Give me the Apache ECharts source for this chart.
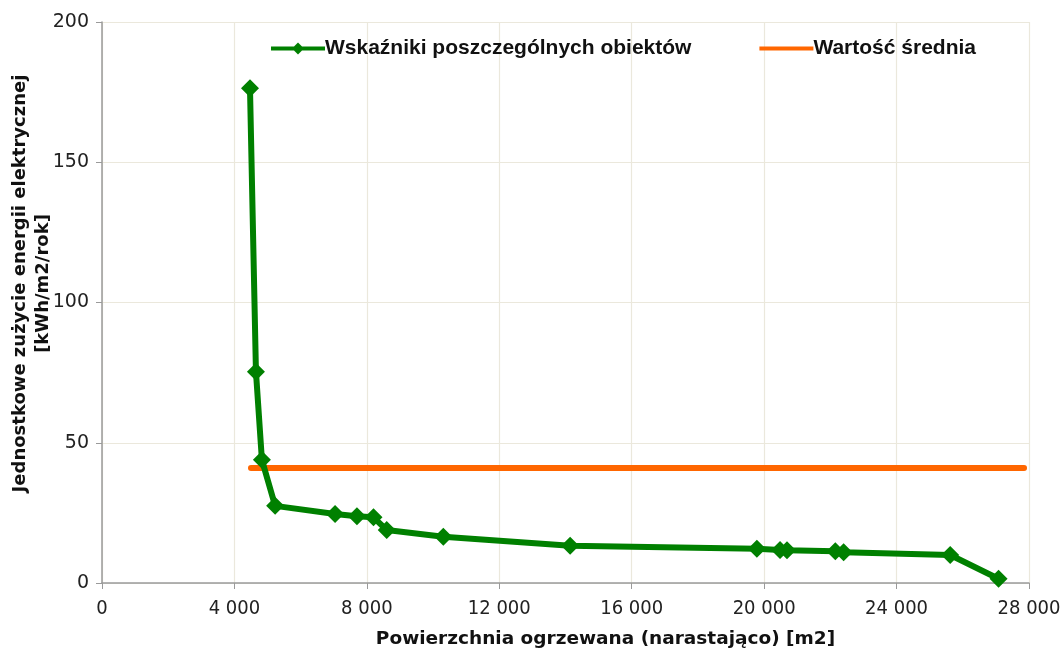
<!DOCTYPE html>
<html>
<head>
<meta charset="utf-8">
<script src="https://cdn.jsdelivr.net/npm/echarts@6/dist/echarts.min.js"></script>
<style>html,body{margin:0;padding:0;background:#fff}#c{width:1061px;height:650px}</style>
</head>
<body>
<div id="c"></div>
<script>
var areaCum = [4470, 4650, 4830, 5230, 7040, 7700, 8200, 8600, 10310, 14140, 19780, 20480, 20690, 22150, 22400, 25620, 27080];
var indicator = [176.4, 75.3, 43.9, 27.5, 24.6, 23.8, 23.4, 18.9, 16.5, 13.3, 12.2, 11.8, 11.7, 11.3, 11.0, 10.0, 1.5];
var avgX = [4500, 27850];
var avgValue = 41.0;
var seriesNames = ['Wskaźniki poszczególnych obiektów', 'Wartość średnia'];
var xAxisTitle = 'Powierzchnia ogrzewana (narastająco) [m2]';
var yAxisTitle = 'Jednostkowe zużycie energii elektrycznej\n[kWh/m2/rok]';

var chart = echarts.init(document.getElementById('c'));
chart.setOption({
  animation: false,
  backgroundColor: '#ffffff',
  legend: {
    top: 33,
    left: 266,
    itemGap: 68,
    itemWidth: 54,
    itemHeight: 14,
    textStyle: {fontFamily: 'Liberation Sans, Arial', fontWeight: 'bold', fontSize: 21, color: '#111', padding: [0, 0, 0, -5]},
    data: [
      {name: seriesNames[0], icon: 'path://M0,5 L23,5 L27,1 L31,5 L54,5 L54,9 L31,9 L27,13 L23,9 L0,9 Z'},
      {name: seriesNames[1], icon: 'path://M0,5 L54,5 L54,9 L0,9 Z'}
    ]
  },
  grid: {left: 102, right: 32, top: 22, bottom: 67, outerBoundsMode: 'none', containLabel: false},
  xAxis: {
    type: 'value', min: 0, max: 28000, interval: 4000,
    name: xAxisTitle, nameLocation: 'middle', nameGap: 47, nameMoveOverlap: false,
    nameTextStyle: {fontFamily: 'DejaVu Sans', fontWeight: 'bold', fontSize: 18.5, color: '#111', padding: [0, 0, 0, 80]},
    axisLine: {show: true, lineStyle: {color: '#9a9a9a', width: 1.5}},
    axisTick: {show: true, length: 6, lineStyle: {color: '#9a9a9a'}},
    axisLabel: {
      fontFamily: 'DejaVu Sans Condensed, DejaVu Sans', fontSize: 20, color: '#222', margin: 16,
      formatter: function (v) { return String(v).replace(/\B(?=(\d{3})+(?!\d))/g, ' '); }
    },
    splitLine: {show: true, lineStyle: {color: '#ebe8dc', width: 1.2}}
  },
  yAxis: {
    type: 'value', min: 0, max: 200, interval: 50,
    name: yAxisTitle, nameLocation: 'middle', nameGap: 47, nameRotate: 90, nameMoveOverlap: false,
    nameTextStyle: {fontFamily: 'DejaVu Sans', fontWeight: 'bold', fontSize: 18, color: '#111', lineHeight: 23, padding: [0, 0, 0, 38]},
    axisLine: {show: true, lineStyle: {color: '#9a9a9a', width: 1.5}},
    axisTick: {show: true, length: 6, lineStyle: {color: '#9a9a9a'}},
    axisLabel: {fontFamily: 'DejaVu Sans', fontSize: 19, color: '#222', margin: 13},
    splitLine: {show: true, lineStyle: {color: '#ebe8dc', width: 1.2}}
  },
  series: [
    {
      name: seriesNames[0], type: 'line',
      data: areaCum.map(function (x, i) { return [x, indicator[i]]; }),
      symbol: 'diamond', symbolSize: 18, showAllSymbol: true,
      itemStyle: {color: '#008000'},
      lineStyle: {color: '#008000', width: 6},
      z: 3
    },
    {
      name: seriesNames[1], type: 'line',
      data: avgX.map(function (x) { return [x, avgValue]; }),
      symbol: 'none',
      itemStyle: {color: '#ff6600'},
      lineStyle: {color: '#ff6600', width: 6, cap: 'round'},
      z: 2
    }
  ]
});
</script>
</body>
</html>
